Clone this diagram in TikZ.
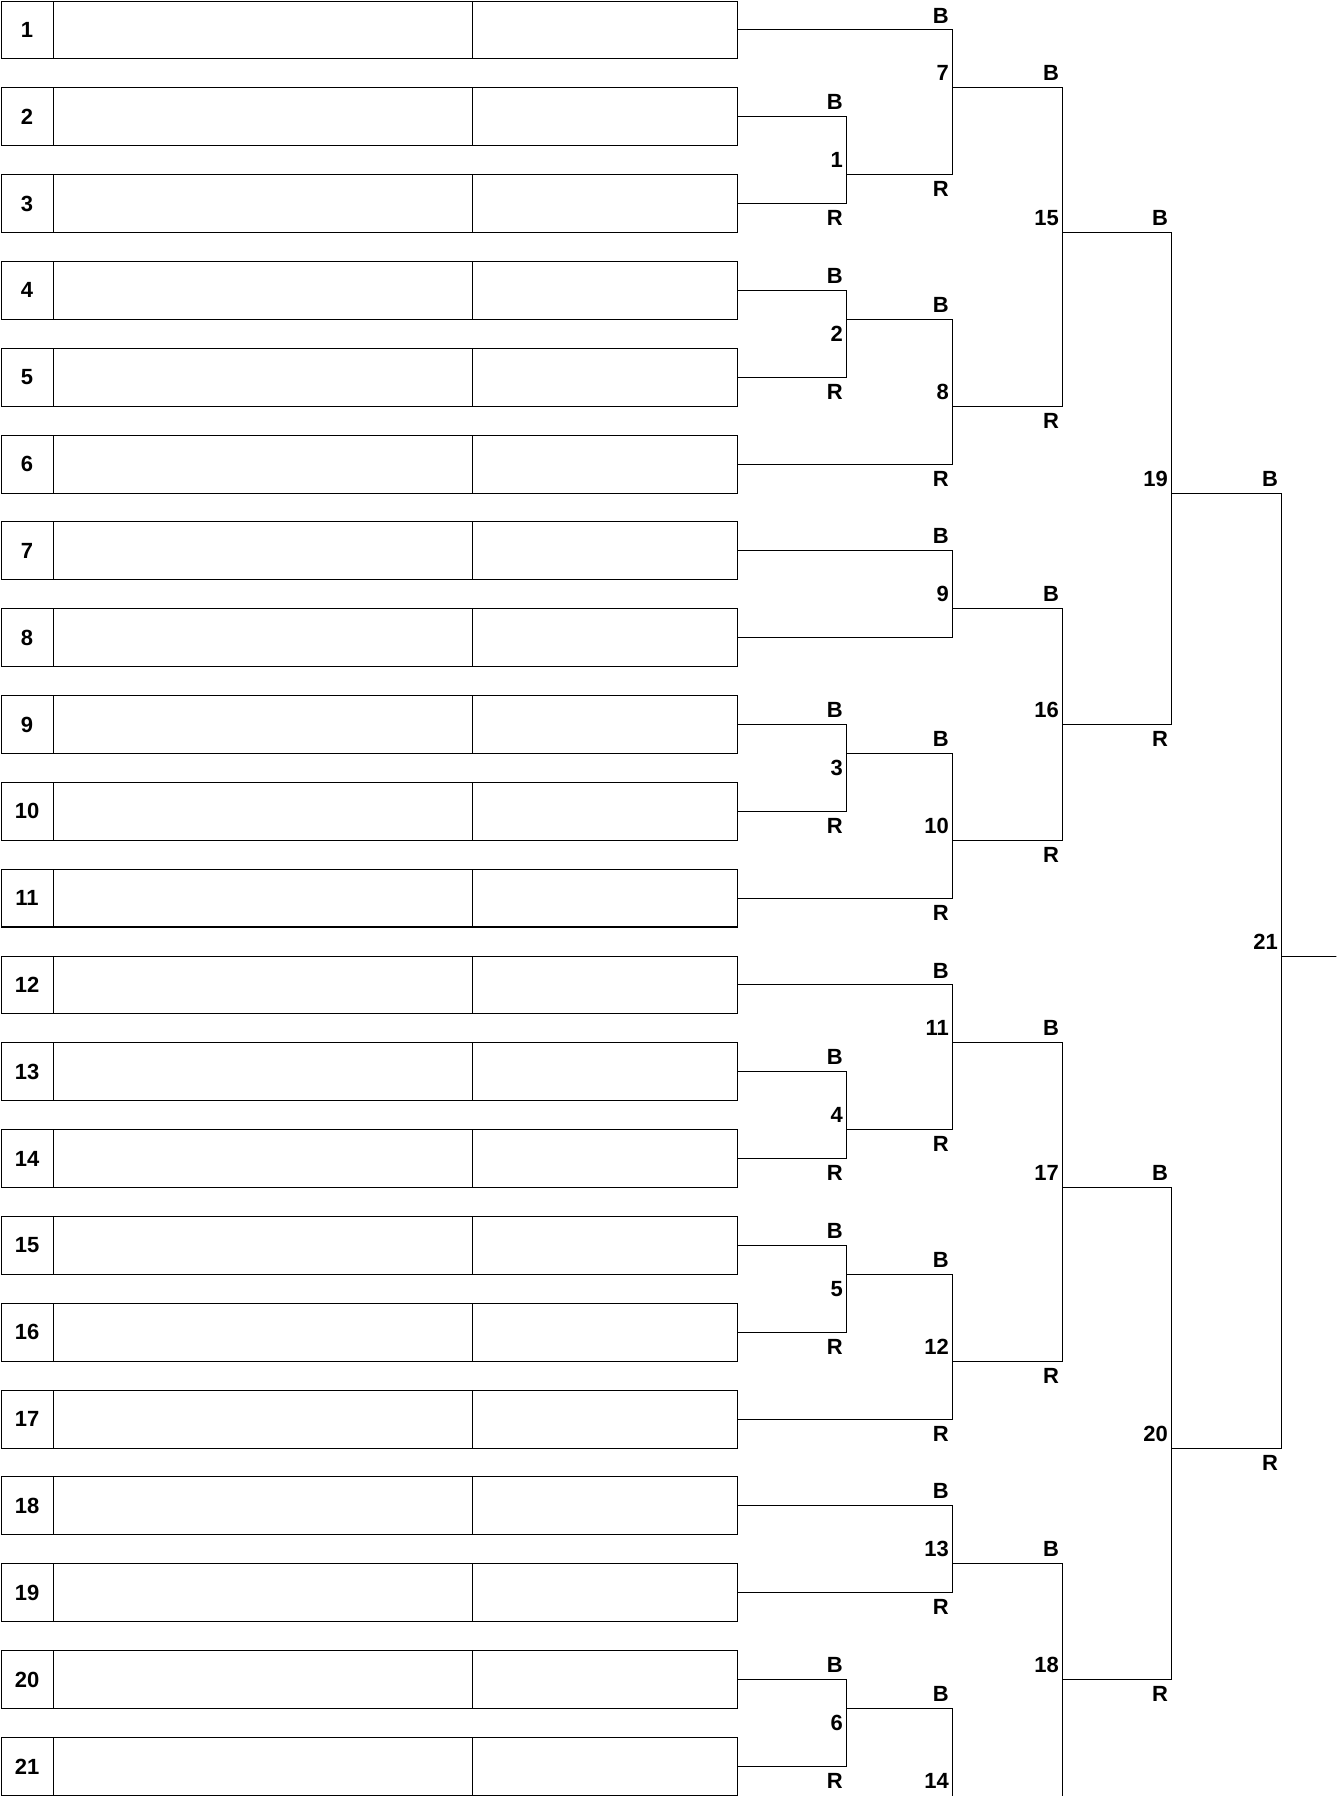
\documentclass[tikz,border=0pt]{standalone}
\usepackage{fontspec}
\setmainfont{Liberation Sans}
\usetikzlibrary{positioning}

\tikzset{
  entrycell/.style={draw, line width=0.55pt, minimum height=1.1576cm, inner sep=0pt, outer sep=0pt,
    font=\fontsize{12.5}{14}\selectfont\bfseries},
  numcell/.style={entrycell, minimum width=1.04cm},
  namecell/.style={entrycell, minimum width=8.38cm},
  clubcell/.style={entrycell, minimum width=5.30cm},
  wire/.style={line width=0.55pt},
  lbl/.style={anchor=east, inner sep=0pt, font=\fontsize{12.5}{14}\selectfont\bfseries}
}

\begin{document}
\begin{tikzpicture}[x=0.02cm, y=-0.5788cm]
  \useasboundingbox (0,-0.035) rectangle (1336,62.025);
  \clip (0,-0.035) rectangle (1336,62.025);

  % Entry rows
  \foreach \i in {1,...,21} {
    \node[numcell] (num\i) at (27,3*\i-2) {\i};
    \node[namecell, right=0pt of num\i] (name\i) {};
    \node[clubcell, right=0pt of name\i] (club\i) {};
  }
  \draw[line width=1.1pt] (num11.south west) -- (club11.south east);

  % Match points: number/column/output row
  \foreach \m/\x/\o in {1/846/6, 2/846/11, 3/846/26, 4/846/39, 5/846/44, 6/846/59,
      7/952/3, 8/952/14, 9/952/21, 10/952/29, 11/952/36, 12/952/47, 13/952/54, 14/952/63,
      15/1062/8, 16/1062/25, 17/1062/41, 18/1062/58,
      19/1171/17, 20/1171/50, 21/1281/33}
    \coordinate (m\m) at (\x,\o);
  \coordinate (final) at (1340,33);

  % Bracket wires
  \foreach \s/\t in {club1.east/m7, club2.east/m1, club3.east/m1, club4.east/m2, club5.east/m2,
      club6.east/m8, club7.east/m9, club8.east/m9, club9.east/m3, club10.east/m3,
      club11.east/m10, club12.east/m11, club13.east/m4, club14.east/m4, club15.east/m5,
      club16.east/m5, club17.east/m12, club18.east/m13, club19.east/m13, club20.east/m6,
      club21.east/m6,
      m1/m7, m2/m8, m3/m10, m4/m11, m5/m12, m6/m14, m7/m15, m8/m15, m9/m16, m10/m16,
      m11/m17, m12/m17, m13/m18, m14/m18, m15/m19, m16/m19, m17/m20, m18/m20,
      m19/m21, m20/m21}
    \draw[wire] (\s) -| (\t);
  \draw[wire] (m21) -- (final);

  % Match numbers and B labels
  \foreach \m/\x/\nc/\bc in {1/846/5/3, 2/846/11/9, 3/846/26/24, 4/846/38/36, 5/846/44/42,
      6/846/59/57, 7/952/2/0, 8/952/13/10, 9/952/20/18, 10/952/28/25, 11/952/35/33,
      12/952/46/43, 13/952/53/51, 14/952/61/58, 15/1062/7/2, 16/1062/24/20,
      17/1062/40/35, 18/1062/57/53, 19/1171/16/7, 20/1171/49/40, 21/1281/32/16} {
    \node[lbl] (mn\m) at (\x-3,\nc+0.5) {\m};
    \node[lbl] (mb\m) at (\x-3,\bc+0.5) {B};
  }

  % R labels
  \foreach \m/\x/\rc in {1/846/7, 2/846/13, 3/846/28, 4/846/40, 5/846/46, 6/846/61,
      7/952/6, 8/952/16, 10/952/31, 11/952/39, 12/952/49, 13/952/55,
      15/1062/14, 16/1062/29, 17/1062/47, 19/1171/25, 20/1171/58, 21/1281/50}
    \node[lbl] (mr\m) at (\x-3,\rc+0.5) {R};
\end{tikzpicture}
\end{document}
